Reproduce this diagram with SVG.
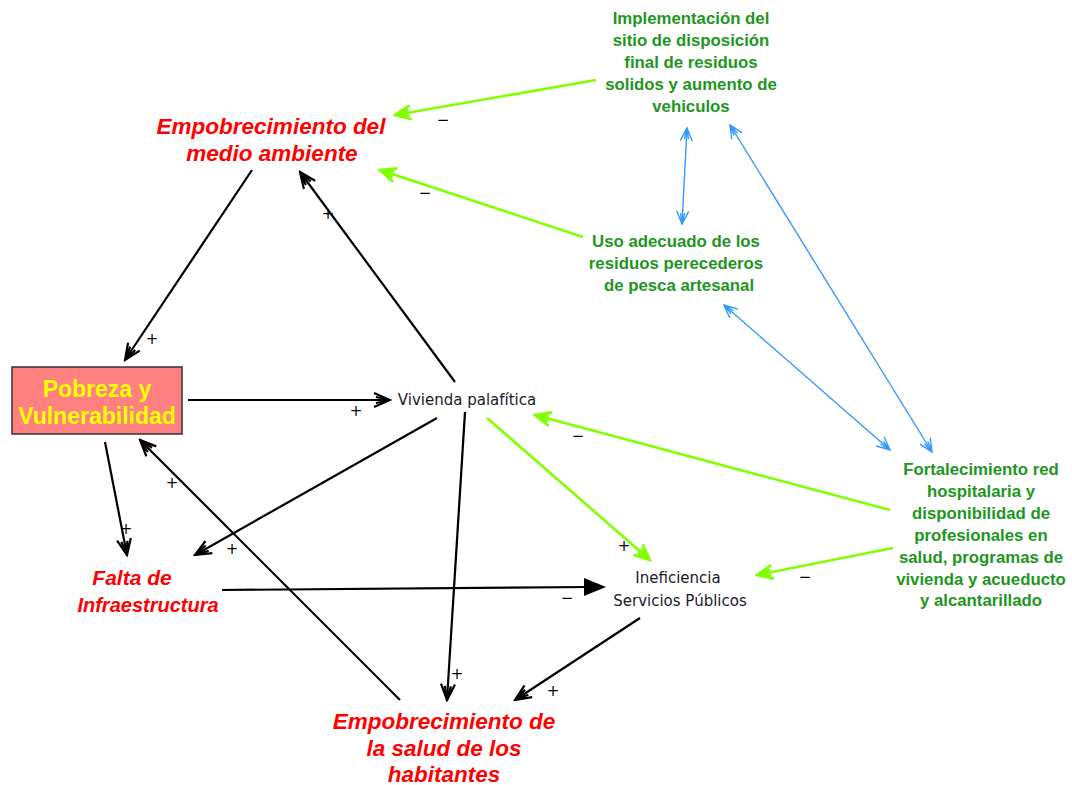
<svg xmlns="http://www.w3.org/2000/svg" width="1072" height="785" viewBox="0 0 1072 785">
<style>
.red{font-family:"Liberation Sans",Arial,sans-serif;font-size:22.5px;font-weight:bold;font-style:italic;fill:#FF0000;text-anchor:middle}
.grn{font-family:"Liberation Sans",Arial,sans-serif;font-size:16.8px;font-weight:bold;fill:#1E961E;text-anchor:middle}
.blk{font-family:"DejaVu Sans",sans-serif;font-size:15px;fill:#1a1a2a;text-anchor:middle}
.yel{font-family:"Liberation Sans",Arial,sans-serif;font-size:23px;font-weight:bold;fill:#FFFF00;text-anchor:middle}
.sg{font-family:"DejaVu Sans",sans-serif;font-size:15px;fill:#000;text-anchor:middle}
.b{stroke:#000;stroke-width:2.2;fill:none;marker-end:url(#ab)}
.g{stroke:#80FF00;stroke-width:2.6;fill:none;marker-end:url(#ag)}
.u{stroke:#3399FF;stroke-width:1.4;fill:none;marker-end:url(#au);marker-start:url(#au)}
</style>
<defs>
<marker id="ab" viewBox="-18 -10 20 20" refX="0" refY="0" markerWidth="20" markerHeight="20" markerUnits="userSpaceOnUse" orient="auto-start-reverse"><path d="M-16,-7 L0,0 L-16,7 M-14,-3 L0,0 L-14,3" fill="none" stroke="#000" stroke-width="2.2"/></marker>
<marker id="ag" viewBox="-18 -10 20 20" refX="0" refY="0" markerWidth="20" markerHeight="20" markerUnits="userSpaceOnUse" orient="auto-start-reverse"><path d="M-16,-7 L0,0 L-16,7 M-14,-3 L0,0 L-14,3" fill="none" stroke="#80FF00" stroke-width="2.6"/></marker>
<marker id="au" viewBox="-18 -10 20 20" refX="0" refY="0" markerWidth="20" markerHeight="20" markerUnits="userSpaceOnUse" orient="auto-start-reverse"><path d="M-13,-6 L0,0 L-13,6 M-11,-2 L0,0 L-11,2" fill="none" stroke="#3399FF" stroke-width="1.4"/></marker>
</defs>
<rect width="1072" height="785" fill="#fff"/>
<g id="connectors">
<path class="b" d="M252,170 L125,360"/>
<path class="b" d="M455,382 L300,172"/>
<path class="b" d="M188,400 L390,400"/>
<path class="b" d="M437,418 L195,555"/>
<path class="b" d="M465,412 L447,700"/>
<path class="b" d="M105,442 L127,555"/>
<path class="b" d="M400,700 L140,440"/>
<path d="M222,590 L590,587" stroke="#000" stroke-width="2.2" fill="none"/>
<polygon points="606,587 584,578 584,596" fill="#000"/>
<path class="b" d="M640,618 L515,700"/>
<path class="g" d="M596,80 L395,115"/>
<path class="g" d="M583,237 L380,170"/>
<path class="g" d="M487,418 L650,560"/>
<path class="g" d="M890,510 L535,415"/>
<path class="g" d="M893,548 L757,575"/>
<path class="u" d="M687,128 L682,224"/>
<path class="u" d="M730,125 L932,452"/>
<path class="u" d="M724,305 L890,450"/>
<text class="sg" x="152" y="344">+</text>
<text class="sg" x="328" y="219">+</text>
<text class="sg" x="356" y="416">+</text>
<text class="sg" x="232" y="554">+</text>
<text class="sg" x="457" y="679">+</text>
<text class="sg" x="126" y="534">+</text>
<text class="sg" x="172" y="488">+</text>
<text class="sg" x="567" y="603">−</text>
<text class="sg" x="553" y="696">+</text>
<text class="sg" x="443" y="125">−</text>
<text class="sg" x="425" y="198">−</text>
<text class="sg" x="624" y="551">+</text>
<text class="sg" x="578" y="441">−</text>
<text class="sg" x="805" y="582">−</text>
</g>
<g id="pobreza">
<rect x="12" y="367" width="170" height="67" fill="#FF8080" stroke="#333" stroke-width="1.5"/>
<text class="yel" x="97" y="397">Pobreza y</text>
<text class="yel" x="97" y="424">Vulnerabilidad</text>
</g>
<g id="medio-ambiente">
<text class="red" x="271" y="134">Empobrecimiento del</text>
<text class="red" x="272" y="161">medio ambiente</text>
</g>
<g id="vivienda">
<text class="blk" x="467" y="405">Vivienda palafítica</text>
</g>
<g id="falta">
<text class="red" x="132" y="585" style="font-size:21px">Falta de</text>
<text class="red" x="148" y="612" style="font-size:20px">Infraestructura</text>
</g>
<g id="ineficiencia">
<text class="blk" x="678" y="583">Ineficiencia</text>
<text class="blk" x="680" y="606">Servicios Públicos</text>
</g>
<g id="salud">
<text class="red" x="444" y="729">Empobrecimiento de</text>
<text class="red" x="444" y="756">la salud de los</text>
<text class="red" x="444" y="782">habitantes</text>
</g>
<g id="implementacion">
<text class="grn" x="691" y="24">Implementación del</text>
<text class="grn" x="691" y="46">sitio de disposición</text>
<text class="grn" x="691" y="68">final de residuos</text>
<text class="grn" x="691" y="90">solidos y aumento de</text>
<text class="grn" x="691" y="112">vehiculos</text>
</g>
<g id="uso">
<text class="grn" x="676" y="247">Uso adecuado de los</text>
<text class="grn" x="676" y="269">residuos perecederos</text>
<text class="grn" x="679" y="291">de pesca artesanal</text>
</g>
<g id="fortalecimiento">
<text class="grn" x="981" y="475">Fortalecimiento red</text>
<text class="grn" x="981" y="497">hospitalaria y</text>
<text class="grn" x="981" y="519">disponibilidad de</text>
<text class="grn" x="981" y="541">profesionales en</text>
<text class="grn" x="981" y="563">salud, programas de</text>
<text class="grn" x="981" y="585">vivienda y acueducto</text>
<text class="grn" x="981" y="606">y alcantarillado</text>
</g>
</svg>
